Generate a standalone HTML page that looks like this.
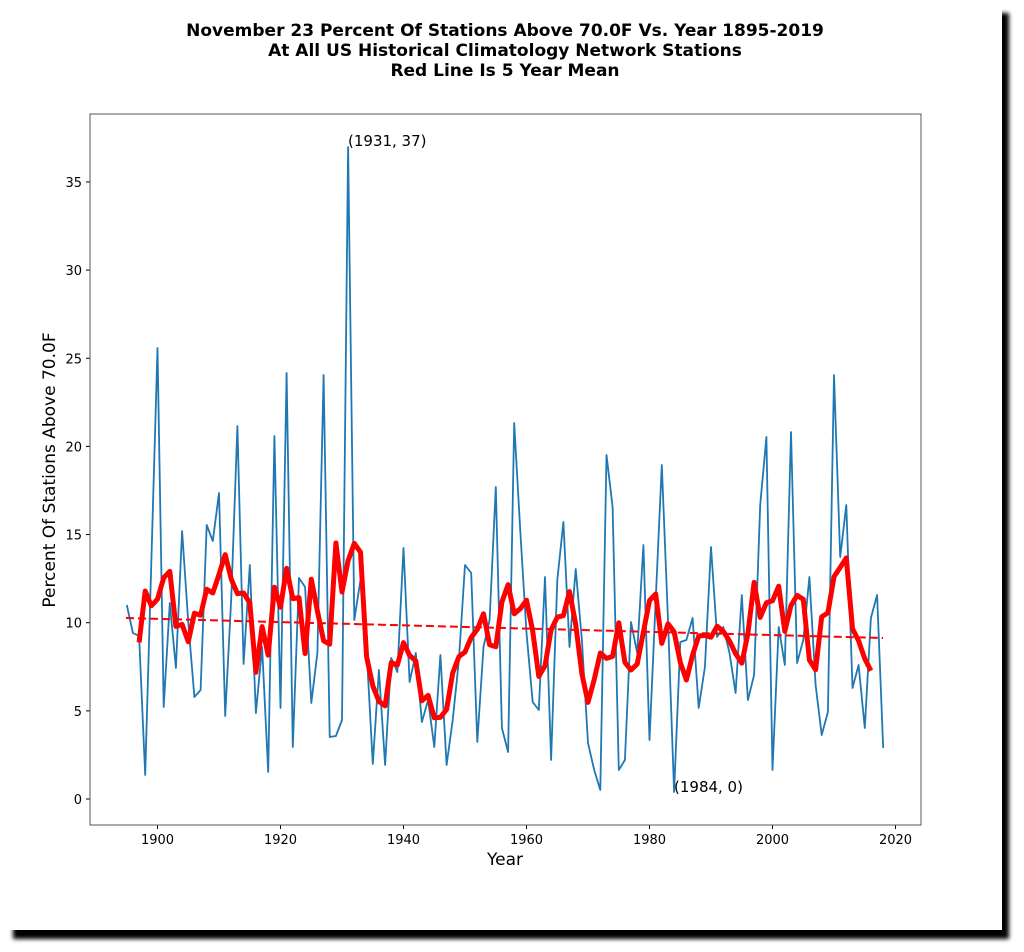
<!DOCTYPE html>
<html><head><meta charset="utf-8"><style>
html,body{margin:0;padding:0;background:#fff;}
body{width:1024px;height:952px;overflow:hidden;position:relative;}
svg{position:absolute;left:0;top:0;}
</style></head><body>
<svg id="s" width="1024" height="952" xmlns="http://www.w3.org/2000/svg" font-family="'DejaVu Sans','Liberation Sans',sans-serif">
<defs><filter id="b" x="-5%" y="-5%" width="110%" height="110%"><feGaussianBlur stdDeviation="2"/></filter></defs>
<rect x="13" y="13" width="996" height="926" fill="#000" filter="url(#b)"/>
<rect x="5" y="5" width="997" height="925" fill="#fff"/>
<text x="505" y="36" font-size="17" font-weight="bold" text-anchor="middle">November 23 Percent Of Stations Above 70.0F Vs. Year 1895-2019</text>
<text x="505" y="56" font-size="17" font-weight="bold" text-anchor="middle">At All US Historical Climatology Network Stations</text>
<text x="505" y="76" font-size="17" font-weight="bold" text-anchor="middle">Red Line Is 5 Year Mean</text>
<g id="ax" font-size="13" fill="#000"></g>
<polyline id="blue" fill="none" stroke="#1f77b4" stroke-width="1.8" stroke-linejoin="round"/>
<line x1="126" y1="618" x2="883" y2="638" stroke="#ff0000" stroke-width="2" stroke-dasharray="8,4"/>
<polyline id="red" fill="none" stroke="#ff0000" stroke-width="5" stroke-linejoin="round"/>
<rect x="90" y="114" width="831" height="711" fill="none" stroke="#555" stroke-width="1"/>
<text x="348" y="146" font-size="15">(1931, 37)</text>
<text x="674" y="792" font-size="15">(1984, 0)</text>
<text x="505" y="865" font-size="17" text-anchor="middle">Year</text>
<text transform="translate(55,470) rotate(-90)" font-size="17" text-anchor="middle">Percent Of Stations Above 70.0F</text>
</svg>
<script>
var ys=[605,633,636,775,563,348,707,603,668,531,623,697,690,525,541,493,716,597,426,664,565,713,647,772,436,708,373,747,578,587,703,653,375,737,736,720,147,620,580,650,764,670,765,658,672,
548,682,653,722,700,747,655,765,720,660,565,573,742,647,620,487,728,752,423,533,633,702,710,577,760,580,522,647,569,640,743,770,790,455,507,770,760,622,653,545,740,600,465,620,
792,642,640,618,708,667,547,637,627,653,693,595,700,675,505,437,770,627,665,432,663,640,577,685,735,712,375,557,505,688,665,728,618,595,748];
function X(y){return 157.5+(y-1900)*6.15;}
var p=[];for(var i=0;i<ys.length;i++)p.push(X(1895+i).toFixed(1)+","+ys[i]);
document.getElementById('blue').setAttribute('points',p.join(' '));
var r=[];for(var i=2;i<ys.length-2;i++){var s=0;for(var k=-2;k<=2;k++)s+=ys[i+k];r.push(X(1895+i).toFixed(1)+","+(s/5).toFixed(1));}
document.getElementById('red').setAttribute('points',r.join(' '));
var g=document.getElementById('ax'),h='';
for(var v=0;v<=35;v+=5){var y=799-v*17.63;h+='<line x1="86" x2="90" y1="'+y+'" y2="'+y+'" stroke="#000"/><text x="82" y="'+(y+5)+'" text-anchor="end">'+v+'</text>';}
for(var yr=1900;yr<=2020;yr+=20){var x=X(yr);h+='<line x1="'+x+'" x2="'+x+'" y1="825" y2="829" stroke="#000"/><text x="'+x+'" y="844" text-anchor="middle">'+yr+'</text>';}
g.innerHTML=h;
</script>
</body></html>
